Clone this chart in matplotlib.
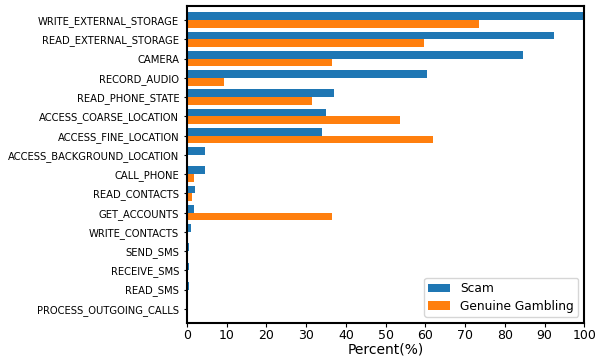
import numpy as np
import matplotlib
matplotlib.use("Agg")
import matplotlib.pyplot as plt

permissions = [
    "WRITE_EXTERNAL_STORAGE", "READ_EXTERNAL_STORAGE", "CAMERA", "RECORD_AUDIO",
    "READ_PHONE_STATE", "ACCESS_COARSE_LOCATION", "ACCESS_FINE_LOCATION",
    "ACCESS_BACKGROUND_LOCATION", "CALL_PHONE", "READ_CONTACTS", "GET_ACCOUNTS",
    "WRITE_CONTACTS", "SEND_SMS", "RECEIVE_SMS", "READ_SMS", "PROCESS_OUTGOING_CALLS",
]
scam = [99.6, 92.5, 84.7, 60.4, 37.1, 34.9, 33.9, 4.5, 4.5, 2.0, 1.7, 0.95, 0.5, 0.5, 0.5, 0.2]
gambling = [73.6, 59.6, 36.4, 9.3, 31.6, 53.6, 62.0, 0.0, 1.7, 1.2, 36.4, 0.0, 0.0, 0.0, 0.0, 0.0]

fig = plt.figure(figsize=(5.95, 3.56), dpi=100)
ax = fig.add_axes([0.314, 0.093, 0.668, 0.89])

y = np.arange(len(permissions))
h = 0.4
ax.barh(y - h / 2, scam, height=h, color="#1f77b4", label="Scam")
ax.barh(y + h / 2, gambling, height=h, color="#ff7f0e", label="Genuine Gambling")

ax.set_yticks(y)
ax.set_yticklabels(permissions, fontsize=7.2)
ax.set_ylim(len(permissions) - 1 + 0.73, -0.73)
ax.set_xlim(0, 100)
ax.set_xticks(range(0, 101, 10))
ax.tick_params(axis="x", labelsize=9, length=3, pad=1.5)
ax.tick_params(axis="y", length=2)
ax.set_xlabel("Percent(%)", fontsize=10, labelpad=0)
for s in ax.spines.values():
    s.set_linewidth(1.5)

ax.legend(loc="lower right", fontsize=8.8, handlelength=1.8, borderpad=0.35,
          labelspacing=0.35, handletextpad=0.8)
fig.savefig("out.png", dpi=100)
